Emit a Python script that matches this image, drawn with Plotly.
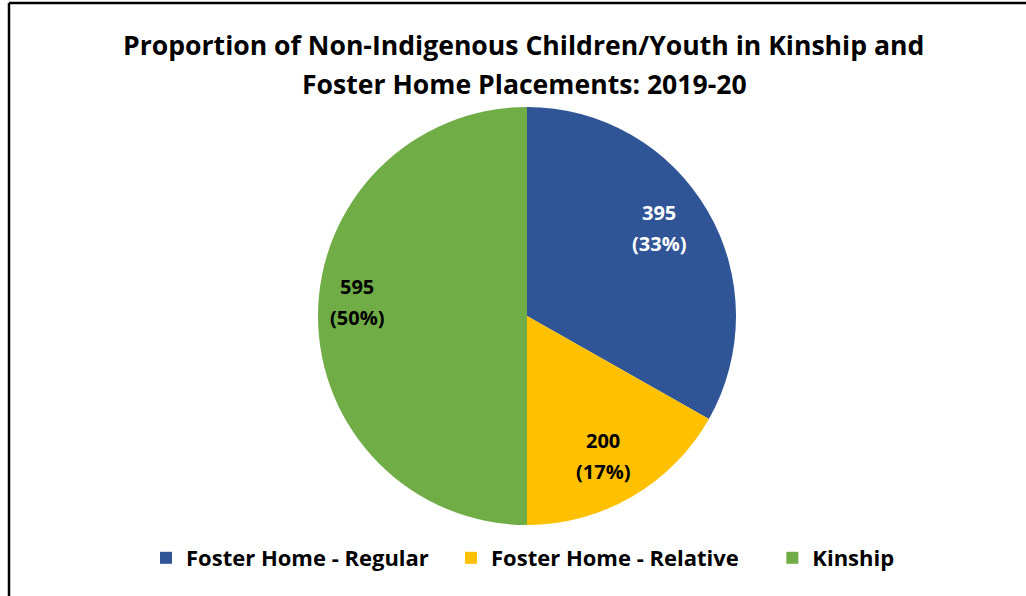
import math
import plotly.graph_objects as go

categories = ["Foster Home - Regular", "Foster Home - Relative", "Kinship"]
values = [395, 200, 595]
colors = ["#2F5597", "#FFC000", "#70AD47"]
text_colors = ["white", "black", "black"]
title_lines = ["Proportion of Non-Indigenous Children/Youth in Kinship and",
               "Foster Home Placements: 2019-20"]

# label placement style (radius fraction, angular nudge in degrees)
label_radius = [0.76, 0.76, 0.815]
label_nudge = [-3.5, 1.8, 4.7]
# extra spacing after legend entries (non-breaking spaces)
legend_pad = [3, 5, 0]

W, H = 1026, 596
FONT = "'Open Sans', sans-serif"

# pie geometry (pixels in the page)
CX, CY, R = 527, 316, 209

total = sum(values)
legend_names = [c + "\u00a0" * p for c, p in zip(categories, legend_pad)]

fig = go.Figure(go.Pie(
    labels=legend_names,
    values=values,
    textinfo="none",
    sort=False,
    direction="clockwise",
    rotation=0,
    marker=dict(colors=colors, line=dict(width=0)),
    domain=dict(x=[(CX - R) / W, (CX + R) / W], y=[1 - (CY + R) / H, 1 - (CY - R) / H]),
    customdata=categories,
    hovertemplate="%{customdata}<br>%{value} (%{percent})<extra></extra>",
))


def ann(text, x, y, size, color):
    return dict(text=text, x=x / W, y=1 - y / H, xref="paper", yref="paper",
                xanchor="center", yanchor="middle", showarrow=False,
                font=dict(family=FONT, size=size, color=color))


annotations = []
cum = 0
for v, tc, rf, nd in zip(values, text_colors, label_radius, label_nudge):
    mid = (cum + v / 2) / total * 2 * math.pi + math.radians(nd)
    cum += v
    lx = CX + rf * R * math.sin(mid)
    ly = CY - rf * R * math.cos(mid)
    annotations.append(ann(f"<b>{v}</b>", lx, ly - 15.5, 20, tc))
    annotations.append(ann(f"<b>({round(100 * v / total)}%)</b>", lx, ly + 15.5, 20, tc))

annotations.append(ann("<b>" + title_lines[0] + "</b>", 523, 45, 26.6, "black"))
annotations.append(ann("<b>" + title_lines[1] + "</b>", 524, 84, 26.6, "black"))

fig.update_layout(
    width=W, height=H,
    margin=dict(l=0, r=0, t=0, b=0),
    paper_bgcolor="white",
    plot_bgcolor="white",
    showlegend=True,
    legend=dict(
        orientation="h",
        x=523 / W, xanchor="center",
        y=1 - 558 / H, yanchor="middle",
        font=dict(family=FONT, size=22, color="black", weight="bold"),
        traceorder="normal",
    ),
    annotations=annotations,
    shapes=[
        dict(type="line", xref="paper", yref="paper", x0=9 / W, x1=1.01, y0=1 - 3 / H, y1=1 - 3 / H,
             line=dict(color="black", width=2.5)),
        dict(type="line", xref="paper", yref="paper", x0=9 / W, x1=9 / W, y0=1 - 3 / H, y1=-0.01,
             line=dict(color="black", width=2.5)),
    ],
)

fig.write_html("out.html", config={"displayModeBar": False},
               post_script="document.body.style.margin='0px';")
